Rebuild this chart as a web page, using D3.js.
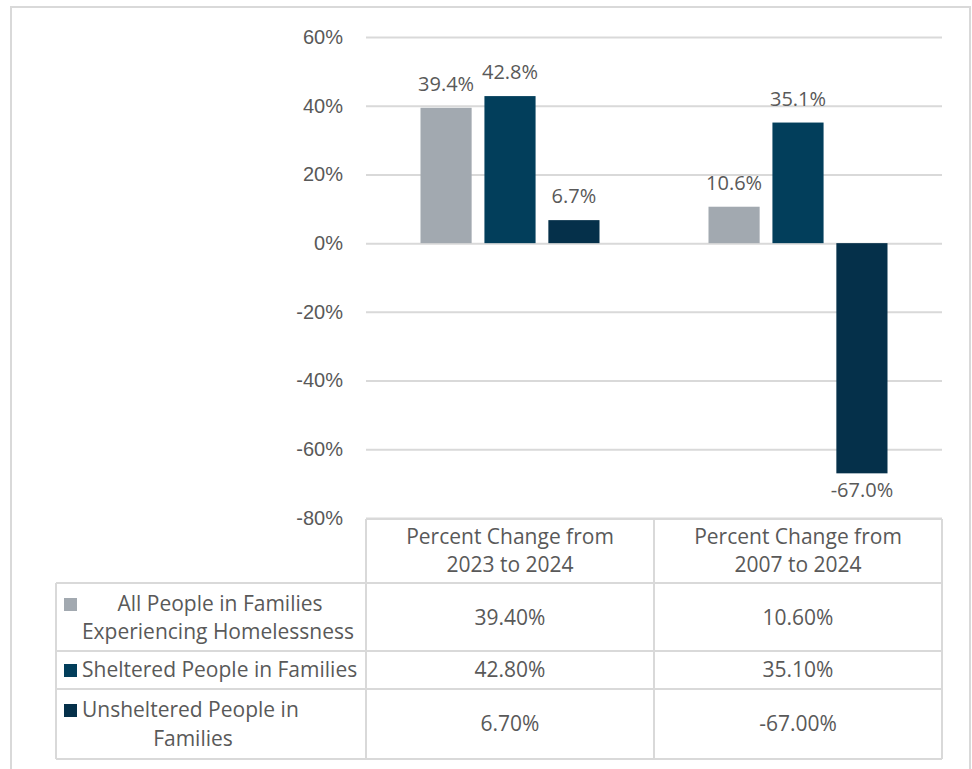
<!DOCTYPE html>
<html>
<head>
<meta charset="utf-8">
<script src="https://cdn.jsdelivr.net/npm/d3@7"></script>
<style>
  html, body { margin: 0; padding: 0; background: #fff; }
  svg { display: block; font-family: "Open Sans", "Noto Sans", sans-serif; }
  .tick text { fill: #595959; font-size: 20px; }
</style>
</head>
<body>
<svg id="chart" width="972" height="769"></svg>
<script>
// Chart data
const categories = ["2023 to 2024", "2007 to 2024"];
const headerLines = [["Percent Change from", "2023 to 2024"], ["Percent Change from", "2007 to 2024"]];
const seriesNames = ["All People in Families Experiencing Homelessness", "Sheltered People in Families", "Unsheltered People in Families"];
const allPeople = [39.4, 10.6];
const sheltered = [42.8, 35.1];
const unsheltered = [6.7, -67.0];
const yTicks = [-80, -60, -40, -20, 0, 20, 40, 60];

const seriesValues = [allPeople, sheltered, unsheltered];
const colors = ["#a2a9b0", "#023e5b", "#05304a"];

// plain hyphen for negatives, like the source
const locale = d3.formatLocale({ decimal: ".", thousands: ",", grouping: [3], currency: ["$", ""], minus: "-" });
const fmt1 = locale.format(".1f");
const fmt2 = locale.format(".2f");

const svg = d3.select("#chart");
const plotLeft = 366, plotRight = 942, plotTop = 37, plotBottom = 518;

// outer frame
svg.append("rect")
  .attr("x", 11).attr("y", 7).attr("width", 959).attr("height", 780)
  .attr("fill", "none").attr("stroke", "#d9d9d9").attr("stroke-width", 2);

let y = d3.scaleLinear().domain([-80, 60]).range([plotBottom, plotTop]);
let x0 = d3.scaleBand().domain(categories).range([plotLeft, plotRight]).padding(0);
let groupW = 179;
let x1 = d3.scaleBand().domain(d3.range(3)).range([0, groupW]).paddingInner(0.2).paddingOuter(0);

// gridlines
svg.append("g")
  .attr("transform", `translate(${plotLeft},0)`)
  .call(d3.axisLeft(y).tickValues(yTicks).tickSize(-(plotRight - plotLeft)).tickFormat(""))
  .call(g => g.select(".domain").remove())
  .call(g => g.selectAll("line").attr("stroke", "#d9d9d9").attr("stroke-width", 2));

// y tick labels
svg.append("g")
  .attr("transform", `translate(${plotLeft},0)`)
  .call(d3.axisLeft(y).tickValues(yTicks).tickSize(0).tickPadding(23).tickFormat(d => d + "%"))
  .call(g => g.select(".domain").remove())
  .call(g => g.selectAll("text").attr("font-family", null));

// bars
seriesValues.forEach((vals, si) => {
  vals.forEach((v, ci) => {
    let cx = x0(categories[ci]) + (x0.bandwidth() - groupW) / 2 + x1(si);
    svg.append("rect")
      .attr("x", cx)
      .attr("y", y(Math.max(0, v)))
      .attr("width", x1.bandwidth())
      .attr("height", Math.abs(y(v) - y(0)))
      .attr("fill", colors[si]);
    svg.append("text")
      .attr("x", cx + x1.bandwidth() / 2)
      .attr("y", v >= 0 ? y(v) - 17 : y(v) + 24)
      .attr("text-anchor", "middle")
      .attr("fill", "#595959")
      .attr("font-size", 20)
      .text(fmt1(v) + "%");
  });
});

// data table
const lineColor = "#d9d9d9";
const tableLeft = 56, col1 = 366, col2 = 654;
const rowTops = [519, 583, 651, 689, 759];
let tg = svg.append("g").attr("stroke", lineColor).attr("stroke-width", 2);
// horizontal lines
tg.append("line").attr("x1", col1).attr("x2", plotRight).attr("y1", rowTops[0]).attr("y2", rowTops[0]);
rowTops.slice(1).forEach(r => {
  tg.append("line").attr("x1", tableLeft).attr("x2", plotRight).attr("y1", r).attr("y2", r);
});
// vertical lines
tg.append("line").attr("x1", tableLeft).attr("x2", tableLeft).attr("y1", rowTops[1]).attr("y2", rowTops[4]);
[col1, col2, plotRight].forEach(xx => {
  tg.append("line").attr("x1", xx).attr("x2", xx).attr("y1", rowTops[0]).attr("y2", rowTops[4]);
});

const txt = (xx, yy, s, anchor) => svg.append("text")
  .attr("x", xx).attr("y", yy).attr("text-anchor", anchor || "middle")
  .attr("dy", "0.35em").attr("fill", "#595959").attr("font-size", 21).text(s);

// header cells
headerLines.forEach((lines, ci) => {
  let cx = x0(categories[ci]) + x0.bandwidth() / 2;
  txt(cx, 537, lines[0]);
  txt(cx, 565, lines[1]);
});

// legend keys + row labels
const rowLines = [
  [["All People in Families", 220, 604, "middle"], ["Experiencing Homelessness", 218, 632, "middle"]],
  [["Sheltered People in Families", 82, 670, "start"]],
  [["Unsheltered People in", 82, 710, "start"], ["Families", 193, 739, "middle"]]
];
const keyY = [598, 664, 704];
seriesNames.forEach((name, si) => {
  svg.append("rect").attr("x", 64).attr("y", keyY[si]).attr("width", 13).attr("height", 13).attr("fill", colors[si]);
  rowLines[si].forEach(l => txt(l[1], l[2], l[0], l[3]));
});

// values
const rowCenters = [618, 670, 724];
seriesValues.forEach((vals, si) => {
  vals.forEach((v, ci) => {
    txt(x0(categories[ci]) + x0.bandwidth() / 2, rowCenters[si], fmt2(v) + "%");
  });
});
</script>
</body>
</html>
